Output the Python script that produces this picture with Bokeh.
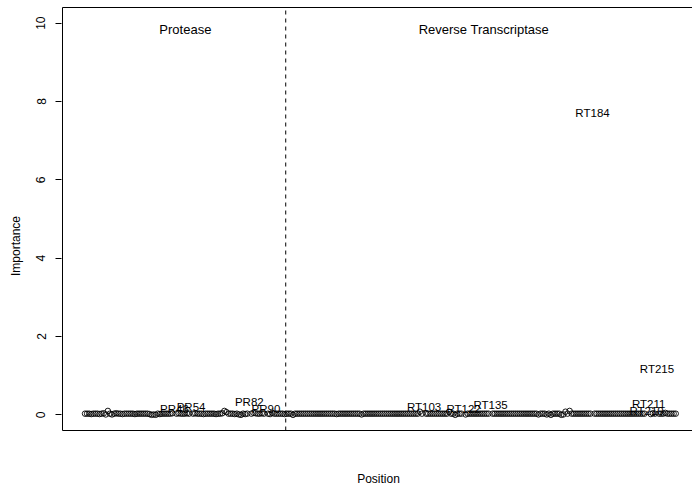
from bokeh.plotting import figure
from bokeh.models import (LinearAxis, FixedTicker, ColumnDataSource, Range1d,
                          BoxAnnotation)
from bokeh.embed import file_html
from bokeh.resources import INLINE
from bokeh.core.properties import value

FONT = "Liberation Sans"

# ---- data ----
pr_positions = list(range(3, 100))
pr_importance = [
    0.03, 0.03, 0.03, 0.02, 0.03, 0.03, 0.03, 0.02, 0.03, 0.04,
    0.01, 0.10, 0.03, 0.01, 0.03, 0.04, 0.03, 0.03, 0.02, 0.03,
    0.03, 0.03, 0.03, 0.03, 0.02, 0.03, 0.03, 0.03, 0.03, 0.03,
    0.03, 0.02, 0.00, 0.01, 0.00, 0.03, 0.02, 0.03, 0.03, 0.03,
    0.03, 0.03, 0.04, 0.16, 0.03, 0.04, 0.03, 0.03, 0.03, 0.04,
    0.03, 0.19, 0.03, 0.04, 0.03, 0.03, 0.03, 0.02, 0.03, 0.03,
    0.03, 0.03, 0.03, 0.02, 0.03, 0.03, 0.04, 0.10, 0.07, 0.03,
    0.03, 0.03, 0.02, 0.03, 0.01, 0.00, 0.03, 0.02, 0.03, 0.32,
    0.03, 0.05, 0.04, 0.03, 0.03, 0.04, 0.03, 0.16, 0.03, 0.02,
    0.05, 0.03, 0.03, 0.03, 0.03, 0.03, 0.02,
]
rt_positions = list(range(37, 225))
rt_importance = [
    0.03, 0.03, 0.03, 0.00, 0.03, 0.03, 0.03, 0.03, 0.03, 0.03,
    0.03, 0.03, 0.03, 0.03, 0.03, 0.03, 0.03, 0.03, 0.03, 0.03,
    0.03, 0.03, 0.03, 0.03, 0.02, 0.03, 0.03, 0.03, 0.03, 0.03,
    0.03, 0.03, 0.03, 0.03, 0.03, 0.03, 0.01, 0.03, 0.03, 0.03,
    0.03, 0.03, 0.03, 0.03, 0.03, 0.03, 0.03, 0.03, 0.03, 0.03,
    0.03, 0.03, 0.03, 0.03, 0.03, 0.03, 0.03, 0.03, 0.03, 0.03,
    0.03, 0.03, 0.03, 0.03, 0.08, 0.03, 0.19, 0.03, 0.03, 0.03,
    0.03, 0.03, 0.03, 0.03, 0.03, 0.03, 0.03, 0.03, 0.08, 0.03,
    0.03, 0.00, 0.03, 0.03, 0.03, 0.14, 0.01, 0.03, 0.03, 0.03,
    0.03, 0.03, 0.03, 0.03, 0.03, 0.03, 0.03, 0.03, 0.24, 0.03,
    0.03, 0.03, 0.03, 0.03, 0.03, 0.03, 0.03, 0.03, 0.03, 0.03,
    0.03, 0.03, 0.03, 0.03, 0.03, 0.03, 0.03, 0.03, 0.03, 0.03,
    0.03, 0.01, 0.03, 0.03, 0.03, 0.01, 0.03, 0.00, 0.03, 0.03,
    0.03, 0.03, 0.00, 0.01, 0.08, 0.03, 0.10, 0.03, 0.03, 0.03,
    0.03, 0.03, 0.03, 0.03, 0.03, 0.03, 0.03, 7.71, 0.03, 0.03,
    0.03, 0.03, 0.03, 0.03, 0.03, 0.03, 0.03, 0.03, 0.03, 0.03,
    0.03, 0.03, 0.03, 0.03, 0.03, 0.03, 0.03, 0.03, 0.03, 0.03,
    0.03, 0.03, 0.03, 0.11, 0.28, 0.02, 0.04, 0.03, 1.16, 0.03,
    0.03, 0.03, 0.05, 0.03, 0.03, 0.03, 0.03, 0.03,
]
labelled = ["PR46", "PR54", "PR82", "PR90", "RT103", "RT122", "RT135",
            "RT184", "RT210", "RT211", "RT215"]
region_names = ["Protease", "Reverse Transcriptase"]
y_ticks = [0, 2, 4, 6, 8, 10]
y_lim = (0, 10)
x_title = "Position"
y_title = "Importance"

# ---- layout of index along the x axis ----
RT_OFFSET = 63  # index = RT position + offset (RT follows protease)
names, xs, ys = [], [], []
for p, v in zip(pr_positions, pr_importance):
    names.append(f"PR{p}"); xs.append(p); ys.append(v)
for p, v in zip(rt_positions, rt_importance):
    names.append(f"RT{p}"); xs.append(p + RT_OFFSET); ys.append(v)

pt = dict(x=[], y=[])
lb = dict(x=[], y=[], t=[])
for n, x, y in zip(names, xs, ys):
    if n in labelled:
        lb["x"].append(x); lb["y"].append(y); lb["t"].append(n)
    else:
        pt["x"].append(x); pt["y"].append(y)

# ---- geometry (pixels) ----
W, H = 692, 485
left_px, top_px = 61, 6                 # plot frame origin
frame_w, frame_h = W - left_px, H - top_px
box_left, box_top, box_bottom = 62, 7, 430   # R-style box
px_per = 2.08
x0 = min(xs) - (84.5 - left_px) / px_per
x1 = x0 + frame_w / px_per
ext = 0.04 * (y_lim[1] - y_lim[0])
by0, by1 = y_lim[0] - ext, y_lim[1] + ext     # box limits (data)
py_per = (box_bottom - box_top) / (by1 - by0)
y1 = by1 + (box_top - top_px) / py_per
y0 = y1 - frame_h / py_per

def xd(px):
    return x0 + (px - left_px) / px_per

def yd(px):
    return y1 - (px - top_px) / py_per

p = figure(width=W, height=H, output_backend="svg", toolbar_location=None,
           x_range=Range1d(x0, x1), y_range=Range1d(y0, y1),
           x_axis_location=None, y_axis_location=None,
           min_border_left=left_px, min_border_right=0,
           min_border_top=top_px, min_border_bottom=0)
p.outline_line_color = None
p.xgrid.visible = False
p.ygrid.visible = False
p.background_fill_color = "white"
p.border_fill_color = "white"

yax = LinearAxis(ticker=FixedTicker(ticks=y_ticks, minor_ticks=[]))
yax.axis_label = y_title
yax.axis_label_text_font = FONT
yax.axis_label_text_font_size = "12px"
yax.axis_label_text_font_style = "normal"
yax.axis_label_text_color = "black"
yax.axis_label_standoff = 11
yax.major_label_text_font = FONT
yax.major_label_text_font_size = "12px"
yax.major_label_text_color = "black"
yax.major_label_orientation = "vertical"
yax.major_label_standoff = 10
yax.major_tick_out = 6
yax.major_tick_in = 0
yax.axis_line_color = None
yax.major_tick_line_color = "black"
p.add_layout(yax, "left")

# the box round the plotting region (its right side lies outside the page)
p.add_layout(BoxAnnotation(left=xd(box_left), right=xd(W + 5), top=by1, bottom=by0,
                           fill_color=None, fill_alpha=0, line_color="black",
                           line_width=1, line_alpha=1))

# dashed separator between protease and reverse transcriptase, inside the box
boundary = max(pr_positions) + 0.5
p.segment(x0=[boundary], y0=[by0], x1=[boundary], y1=[by1],
          line_color="black", line_width=1, line_dash="4 4")

p.scatter("x", "y", source=ColumnDataSource(pt), size=5.5, marker="circle",
          fill_color=None, line_color="black", line_width=0.9)

p.text("x", "y", text="t", source=ColumnDataSource(lb), text_font=value(FONT),
       text_font_size="11.5px", text_align="center", text_baseline="middle",
       text_color="black")

title_y = y_lim[1] - 0.16
rt_hi = max(rt_positions) + RT_OFFSET
p.text(x=[(min(pr_positions) + boundary) / 2, (boundary + rt_hi) / 2 + 1.5],
       y=[title_y, title_y], text=region_names, text_font=value(FONT),
       text_font_size="13px", text_align="center", text_baseline="middle",
       text_color="black")

# x-axis title under the box, as R's xlab
p.text(x=[xd(378)], y=[yd(478)], text=[x_title], text_font=value(FONT),
       text_font_size="12px", text_align="center", text_baseline="middle",
       text_color="black")

open("out.html", "w").write(file_html(p, INLINE))
